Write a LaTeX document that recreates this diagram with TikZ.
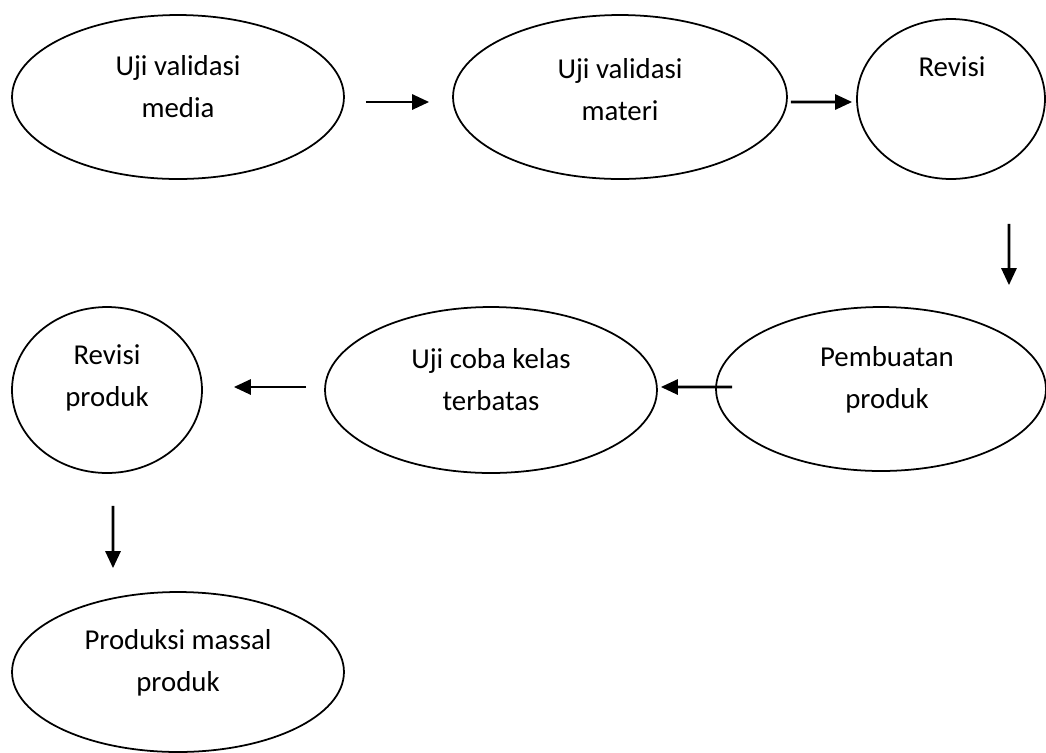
\documentclass[tikz,border=0pt]{standalone}
\usepackage{fontspec}
\setmainfont{Carlito}
\usetikzlibrary{shapes.geometric,arrows.meta}
\tikzset{
  stage/.style={ellipse, draw, line width=1pt, inner sep=0pt},
  caption/.style={align=center, font=\fontsize{16.4}{24}\selectfont},
  flow/.style={line width=1.6pt, -{Triangle[length=0.34cm,width=0.3cm]}}
}
\begin{document}
\begin{tikzpicture}[x=0.02cm, y=-0.02cm]
    \useasboundingbox (0,0) rectangle (1046,752);
    % the ellipses
    \node[stage, minimum width=6.64cm, minimum height=3.28cm] (media) at (178,97) {};
    \node[stage, minimum width=6.68cm, minimum height=3.28cm] (materi) at (620,97) {};
    \node[stage, minimum width=3.76cm, minimum height=3.2cm] (revisi) at (951,99) {};
    \node[stage, minimum width=6.6cm, minimum height=3.28cm] (pembuatan) at (881,389) {};
    \node[stage, minimum width=6.64cm, minimum height=3.32cm] (ujicoba) at (491,390) {};
    \node[stage, minimum width=3.8cm, minimum height=3.32cm] (revprod) at (107,390) {};
    \node[stage, minimum width=6.64cm, minimum height=3.2cm] (produksi) at (178,672) {};
    % their texts
    \node[caption] (media-txt) at (178,87) {Uji validasi\\media};
    \node[caption] (materi-txt) at (620,90) {Uji validasi\\materi};
    \node[caption] (revisi-txt) at (952,67) {Revisi};
    \node[caption] (pembuatan-txt) at (887,380) {Pembuatan\\produk};
    \node[caption] (ujicoba-txt) at (491,380) {Uji coba kelas\\terbatas};
    \node[caption] (revprod-txt) at (107,378) {Revisi\\produk};
    \node[caption] (produksi-txt) at (178,663) {Produksi massal\\produk};
    % arrows
    \draw[flow, shorten <=0.42cm, shorten >=0.46cm] ([yshift=-0.1cm]media.east) -- ([yshift=-0.1cm]materi.west);
    \draw[flow, shorten <=0.06cm, shorten >=0.08cm] ([yshift=-0.1cm]materi.east) -- ([yshift=-0.06cm]revisi.west);
    \draw[flow, shorten <=0.88cm, shorten >=0.42cm] ([xshift=1.16cm]revisi.south) -- ([xshift=2.56cm]pembuatan.north);
    \draw[flow, shorten <=-0.34cm, shorten >=0.06cm] ([yshift=0.04cm]pembuatan.west) -- ([yshift=0.06cm]ujicoba.east);
    \draw[flow, shorten <=0.36cm, shorten >=0.62cm] ([yshift=0.06cm]ujicoba.west) -- ([yshift=0.06cm]revprod.east);
    \draw[flow, shorten <=0.64cm, shorten >=0.46cm] ([xshift=0.12cm]revprod.south) -- ([xshift=-1.3cm]produksi.north);
\end{tikzpicture}
\end{document}
